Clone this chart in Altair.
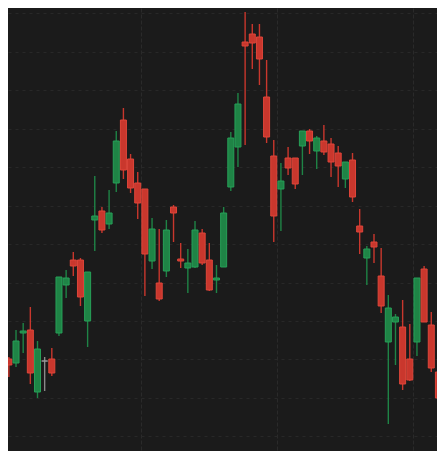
import altair as alt
import pandas as pd

# Candle index (trading session)
idx = list(range(63))

open_ = [156, 141, 137, 167, 170, 108, 139, 141, 167, 215,
         240, 240, 179, 280, 289, 276, 317, 380, 341, 317,
         311, 239, 217, 229, 293, 241, 232, 233, 267, 240,
         220, 233, 313, 353, 458, 466, 463, 403, 344, 311,
         342, 342, 354, 369, 349, 359, 356, 347, 321, 340,
         274, 242, 258, 224, 158, 178, 173, 141, 158, 231,
         175, 128, 115]
close = [145, 135, 159, 169, 127, 151, 139, 127, 223, 222,
         234, 203, 228, 284, 270, 287, 359, 330, 312, 297,
         246, 271, 201, 270, 287, 239, 237, 270, 237, 210,
         222, 287, 362, 396, 454, 457, 441, 363, 284, 319,
         332, 316, 369, 359, 362, 348, 338, 334, 338, 303,
         268, 251, 253, 194, 192, 183, 116, 120, 222, 178,
         132, 102, 123]
high = [160, 143, 170, 177, 193, 159, 143, 152, 223, 230,
        248, 242, 228, 324, 293, 310, 369, 392, 346, 328,
        311, 282, 271, 280, 295, 257, 251, 279, 271, 257,
        235, 293, 368, 407, 488, 476, 476, 440, 360, 337,
        353, 342, 369, 371, 364, 375, 362, 354, 338, 347,
        291, 254, 266, 252, 205, 186, 200, 176, 222, 234,
        188, 156, 128]
low = [134, 123, 133, 147, 116, 102, 109, 124, 164, 202,
       224, 194, 153, 249, 267, 271, 308, 321, 307, 281,
       204, 231, 199, 223, 258, 232, 207, 232, 235, 209,
       207, 233, 309, 333, 355, 431, 415, 357, 258, 269,
       325, 311, 325, 346, 331, 345, 323, 313, 312, 298,
       246, 215, 237, 187, 76, 135, 110, 119, 144, 178,
       128, 79, 105]

h_grid = [486.7, 448.2, 409.8, 371.3, 332.9, 294.4, 256.0, 217.5, 179.1, 140.6, 102.2, 63.7]
v_grid = [19.5, 38.5, 57.5]

df = pd.DataFrame({"i": idx, "open": open_, "close": close, "high": high, "low": low})
df["dir"] = ["up" if c > o else ("down" if c < o else "flat") for o, c in zip(open_, close)]

x_scale = alt.Scale(domain=[0.88, 60.80], nice=False, zero=False, padding=0)
y_scale = alt.Scale(domain=[49, 492], nice=False, zero=False, padding=0)

fill_scale = alt.Scale(domain=["up", "down", "flat"], range=["#1f8446", "#c9372d", "#8a8a8a"])
stroke_scale = alt.Scale(domain=["up", "down", "flat"], range=["#27a058", "#e0463a", "#9a9a9a"])

x_enc = alt.X("i:Q", scale=x_scale,
              axis=alt.Axis(values=v_grid, labels=False, ticks=False, domain=False, title=None,
                            grid=True, gridColor="#2a2a2a", gridDash=[4, 2], gridWidth=1))
y_axis = alt.Axis(values=h_grid, labels=False, ticks=False, domain=False, title=None,
                  grid=True, gridColor="#282828", gridDash=[3, 4], gridWidth=1)

base = alt.Chart(df)

wicks = base.mark_rule(strokeWidth=1.4, clip=True).encode(
    x=x_enc,
    y=alt.Y("low:Q", scale=y_scale, axis=y_axis),
    y2="high:Q",
    color=alt.Color("dir:N", scale=fill_scale, legend=None),
)

bodies = base.mark_bar(size=6, strokeWidth=1, clip=True).encode(
    x=alt.X("i:Q", scale=x_scale),
    y=alt.Y("open:Q", scale=y_scale),
    y2="close:Q",
    fill=alt.Fill("dir:N", scale=fill_scale, legend=None),
    stroke=alt.Stroke("dir:N", scale=stroke_scale, legend=None),
)

chart = alt.layer(wicks, bodies).properties(
    width=429, height=443, padding=0, background="#1b1b1b"
).configure_view(stroke=None)

chart.save("out.html", embed_options={"renderer": "svg", "actions": False})
